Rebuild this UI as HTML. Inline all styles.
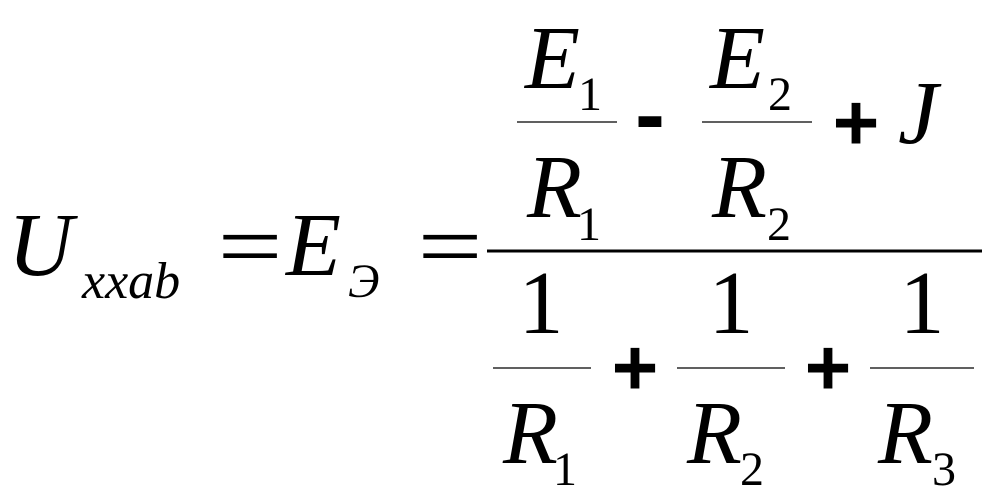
<!DOCTYPE html>
<html><head><meta charset="utf-8"><style>
html,body{margin:0;padding:0;background:#fff;}
svg{display:block}
</style></head><body>
<svg width="996" height="502" viewBox="0 0 996 502" xmlns="http://www.w3.org/2000/svg">
<g font-family="Liberation Serif, serif" font-style="italic" fill="#000">
<text x="8" y="275" font-size="90">U</text>
<text x="82" y="298" font-size="52">xxab</text>
<text x="286" y="275" font-size="90">E</text>
<text x="348" y="297" font-size="48">Э</text>
<text x="525" y="88" font-size="90">E</text>
<text x="710" y="88" font-size="90">E</text>
<text x="898" y="143" font-size="90">J</text>
<text x="527" y="217" font-size="90">R</text>
<text x="712" y="217" font-size="90">R</text>
<text x="503" y="463" font-size="90">R</text>
<text x="687" y="463" font-size="90">R</text>
<text x="878" y="463" font-size="90">R</text>
</g>
<g font-family="Liberation Serif, serif" fill="#000">
<text x="578" y="110" font-size="48">1</text>
<text x="768" y="110" font-size="48">2</text>
<text x="577" y="240" font-size="48">1</text>
<text x="767" y="240" font-size="48">2</text>
<text x="553" y="485" font-size="48">1</text>
<text x="740" y="485" font-size="48">2</text>
<text x="932" y="485" font-size="48">3</text>
<text x="541" y="333" font-size="90" text-anchor="middle">1</text>
<text x="731" y="333" font-size="90" text-anchor="middle">1</text>
<text x="922" y="333" font-size="90" text-anchor="middle">1</text>
<text transform="translate(250,277) scale(1.25,1)" x="0" y="0" font-size="92" text-anchor="middle">=</text>
<text transform="translate(450,277) scale(1.25,1)" x="0" y="0" font-size="92" text-anchor="middle">=</text>
</g>
<g font-family="Liberation Sans, sans-serif" font-weight="bold" fill="#000" text-anchor="middle">
<text x="650" y="145" font-size="90">-</text>
<text x="856" y="150" font-size="80">+</text>
<text x="635" y="395" font-size="80">+</text>
<text x="828" y="395" font-size="80">+</text>
</g>
<g stroke="#000">
<line x1="487" y1="251" x2="982" y2="251" stroke-width="3"/>
<line x1="517" y1="122" x2="617" y2="122" stroke-width="1.3"/>
<line x1="702" y1="122" x2="812" y2="122" stroke-width="1.3"/>
<line x1="493" y1="368" x2="591" y2="368" stroke-width="1.3"/>
<line x1="677" y1="368" x2="785" y2="368" stroke-width="1.3"/>
<line x1="870" y1="368" x2="974" y2="368" stroke-width="1.3"/>
</g>
</svg>
</body></html>
